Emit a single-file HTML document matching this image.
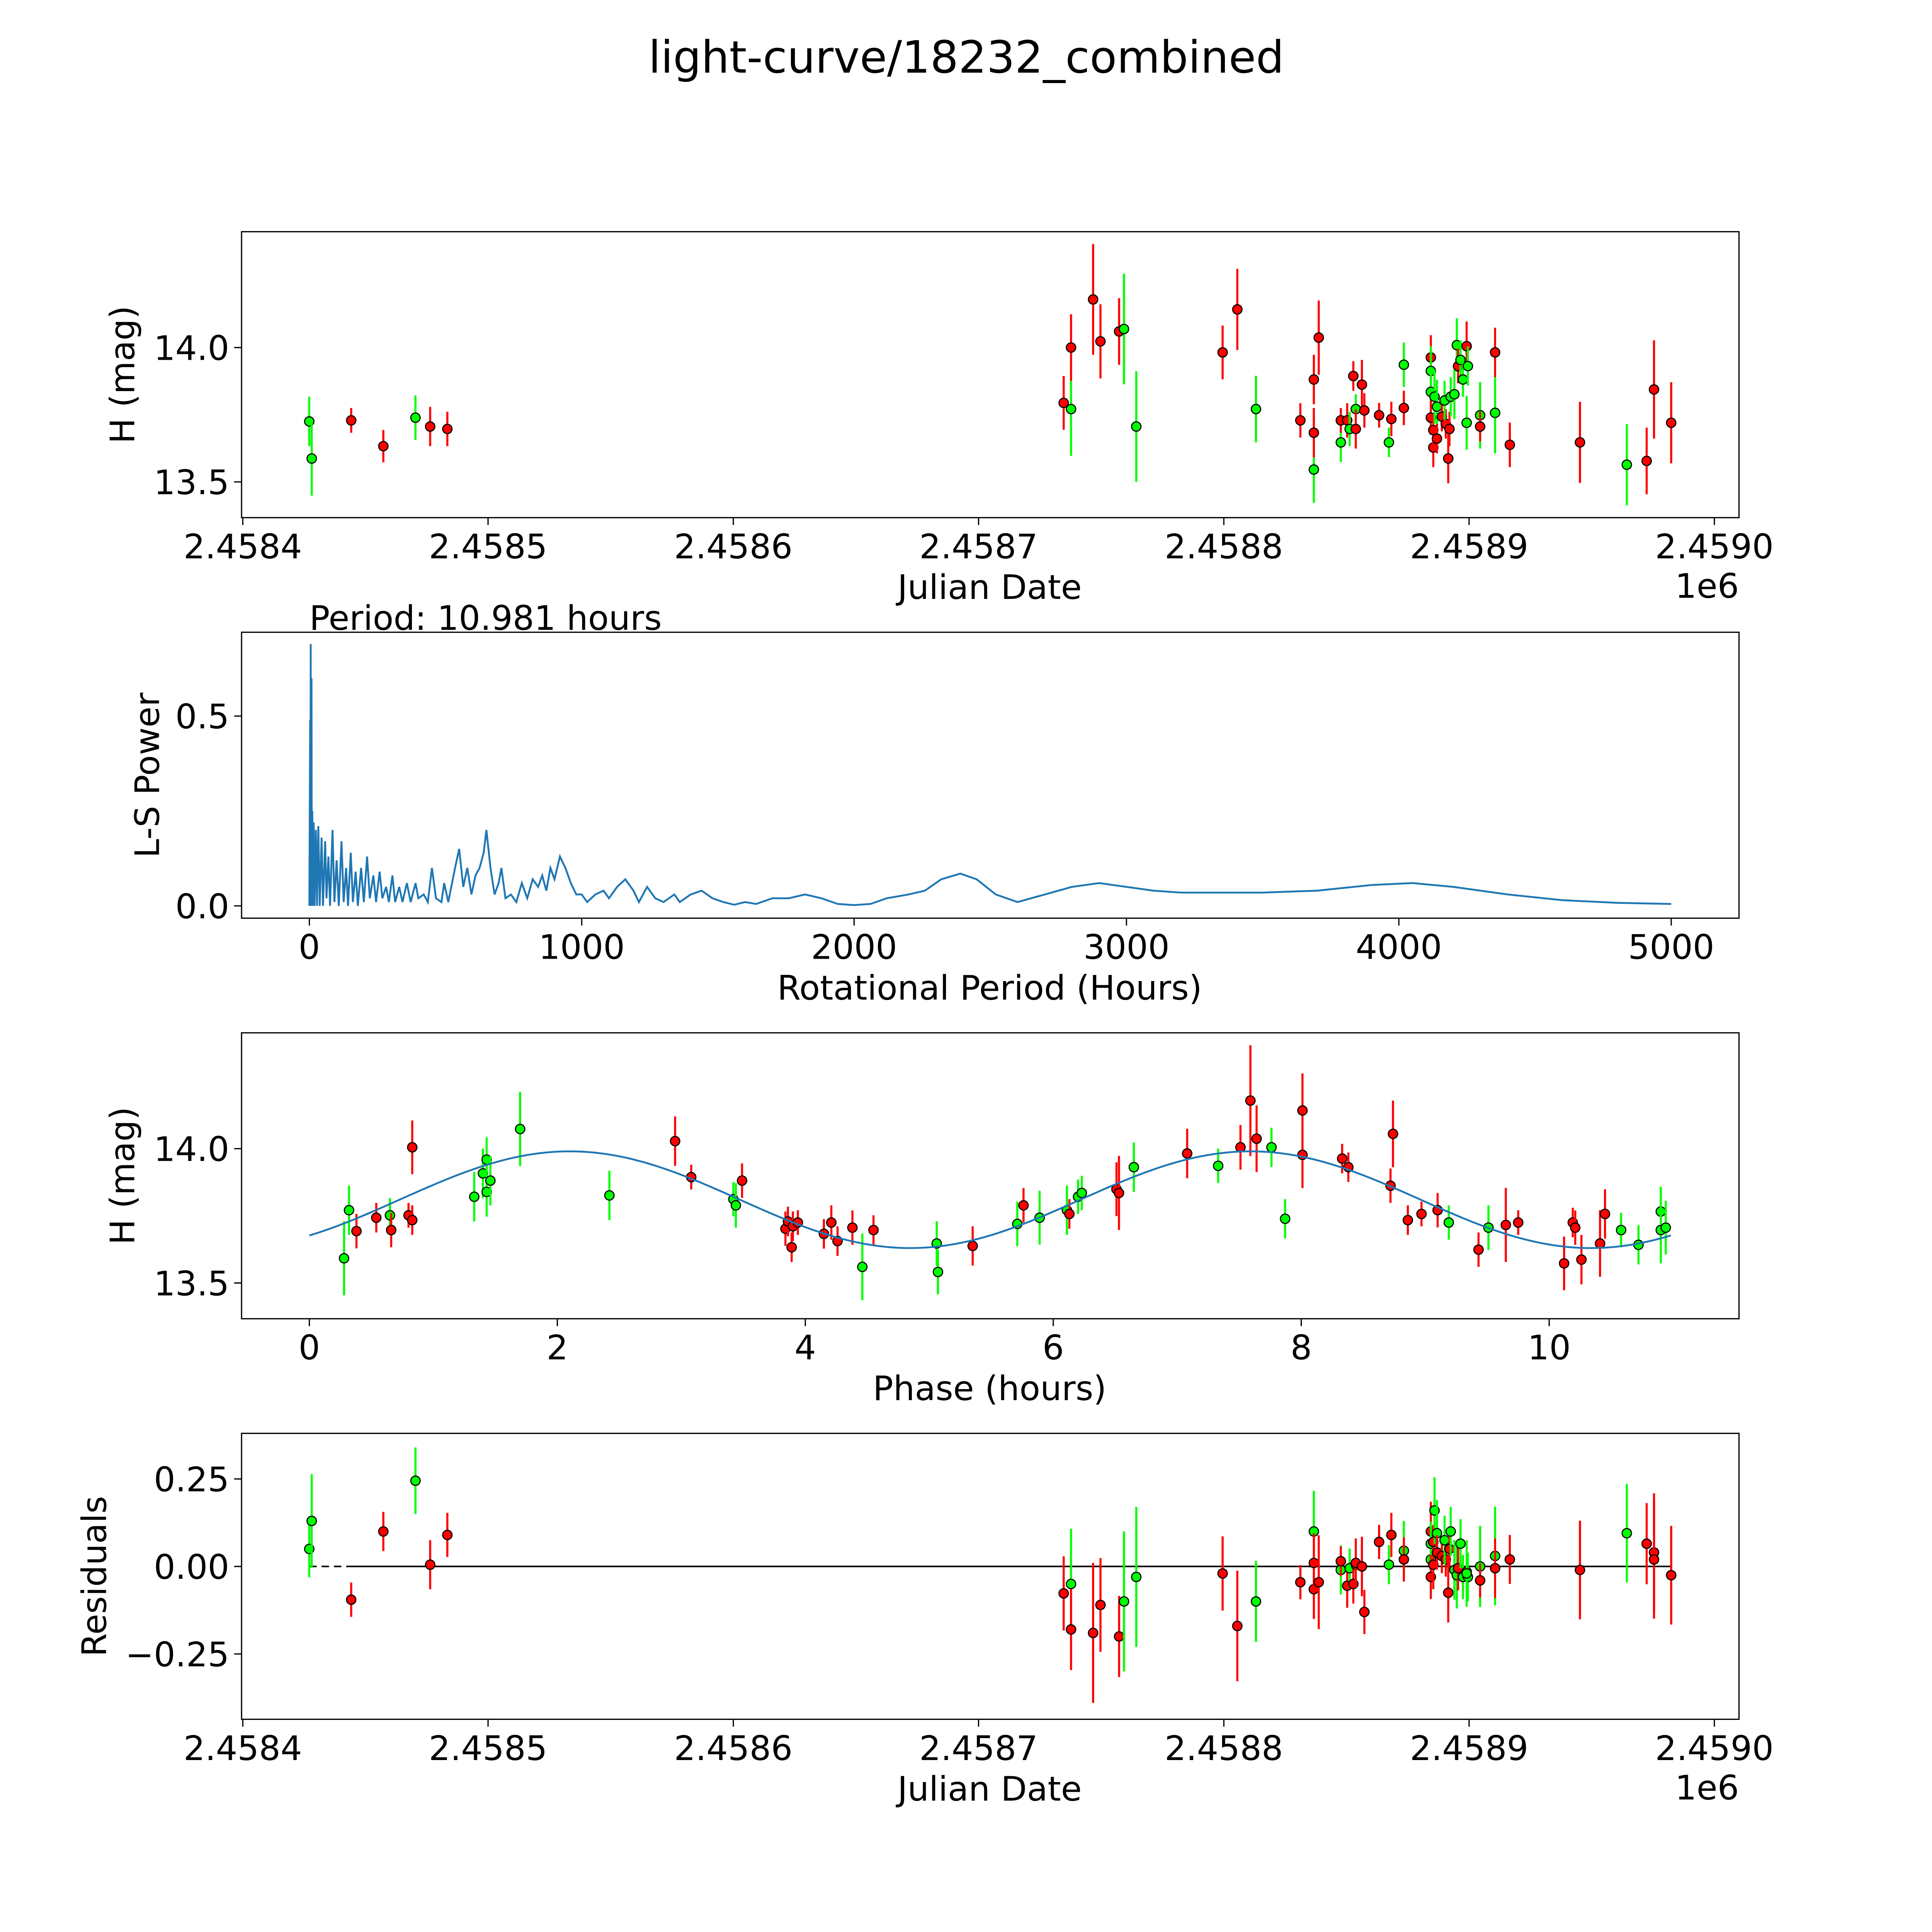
<!DOCTYPE html>
<html><head><meta charset="utf-8"><style>
html,body{margin:0;padding:0;background:#fff;overflow:hidden;width:5400px;height:5400px;}
svg{display:block;font-family:"DejaVu Sans","Liberation Sans",sans-serif;}
</style></head><body>
<svg id="fig" xmlns="http://www.w3.org/2000/svg" width="5400" height="5400" viewBox="0 0 1693 1693" preserveAspectRatio="xMinYMin meet">
<rect x="0" y="0" width="1693" height="1693" fill="#fff"/>
<text x="784" y="59" font-size="36" text-anchor="middle">light-curve/18232_combined</text>
<g id="p1"></g>
<g id="p2"></g>
<g id="p3"></g>
<g id="p4"></g>
</svg>
<script>
// Panel 1 data: JD offset from 2458400, magnitude, error, filter colour
const t1=[27.1,28.1,44.2,57.3,70.4,76.4,83.4,334.7,337.7,337.7,346.7,349.7,357.3,359.3,364.3,399.5,405.5,413.1,431.2,436.7,436.7,436.7,438.7,447.7,447.7,450.3,451.3,452.8,453.8,453.8,456.3,457.3,463.3,467.3,468.3,473.4,473.4,484.4,484.4,484.4,484.4,485.4,485.4,485.9,486.9,486.9,488.9,490.5,490,491.5,492,492.5,494,495,495.5,496.5,497.5,499,499.5,499,504.5,504.5,510.6,510.6,516.6,545.2,564.3,572.4,575.4,582.4];
const m1=[13.725,13.587,13.729,13.633,13.739,13.706,13.697,13.794,13.771,14.0,14.179,14.023,14.06,14.069,13.706,13.982,14.142,13.771,13.729,13.546,13.683,13.881,14.037,13.647,13.729,13.729,13.697,13.894,13.771,13.697,13.862,13.766,13.748,13.647,13.734,13.936,13.775,13.963,13.913,13.835,13.739,13.628,13.693,13.817,13.78,13.661,13.743,13.716,13.803,13.587,13.697,13.817,13.826,14.009,13.931,13.954,13.881,14.005,13.931,13.72,13.748,13.706,13.757,13.982,13.638,13.647,13.564,13.578,13.844,13.72];
const e1=[0.092,0.138,0.046,0.06,0.083,0.073,0.064,0.1,0.174,0.124,0.206,0.138,0.124,0.206,0.206,0.1,0.151,0.124,0.064,0.124,0.092,0.092,0.138,0.073,0.046,0.064,0.064,0.055,0.055,0.073,0.092,0.064,0.046,0.055,0.064,0.083,0.064,0.083,0.092,0.064,0.064,0.073,0.055,0.1,0.1,0.055,0.055,0.055,0.073,0.092,0.064,0.073,0.092,0.1,0.064,0.073,0.064,0.092,0.073,0.1,0.124,0.055,0.151,0.092,0.083,0.151,0.151,0.124,0.183,0.151];
const c1="ggrrgrrr"+"g"+"rrrr"+"gg"+"rr"+"g"+"r"+"g"+"rrr"+"g"+"r"+"r"+"g"+"r"+"g"+"rrrr"+"g"+"r"+"g"+"rr"+"gg"+"rrr"+"gg"+"rrr"+"g"+"rr"+"ggg"+"r"+"gg"+"r"+"ggg"+"r"+"g"+"rrr"+"g"+"rrr";
// Panel 2: Lomb-Scargle periodogram
const per2=[0,3,4,5,6,8,9,11,13,16,19,24,28,33,38,45,50,58,63,70,76,85,92,100,108,118,126,135,142,152,160,170,178,190,200,212,222,235,245,258,268,282,292,305,315,330,342,358,372,390,400,420,435,450,465,485,495,510,535,550,565,580,595,610,625,640,650,665,680,695,705,720,740,760,780,800,820,840,855,870,885,900,920,940,960,980,1000,1020,1050,1080,1100,1130,1160,1190,1210,1240,1270,1300,1340,1360,1400,1440,1480,1520,1560,1600,1640,1700,1760,1820,1880,1940,2000,2060,2120,2200,2260,2320,2390,2450,2520,2600,2700,2800,2900,3000,3100,3200,3300,3500,3700,3900,4050,4200,4400,4600,4800,5000];
const pow2=[0,0.49,0,0.69,0,0.6,0,0.25,0,0.22,0,0.2,0,0.21,0,0.18,0,0.17,0.02,0.13,0,0.2,0.01,0.12,0,0.17,0.01,0.1,0,0.14,0.01,0.09,0,0.1,0.01,0.13,0.02,0.08,0.01,0.09,0.02,0.05,0.01,0.08,0.01,0.05,0.01,0.06,0.01,0.06,0.02,0.03,0.01,0.1,0.02,0.01,0.06,0.01,0.1,0.15,0.05,0.1,0.03,0.08,0.1,0.14,0.2,0.1,0.03,0.06,0.1,0.02,0.03,0.01,0.06,0.02,0.07,0.05,0.08,0.04,0.1,0.07,0.13,0.1,0.06,0.03,0.03,0.01,0.03,0.04,0.02,0.05,0.07,0.04,0.01,0.05,0.02,0.01,0.03,0.01,0.03,0.04,0.02,0.01,0.003,0.01,0.005,0.02,0.02,0.03,0.02,0.005,0.002,0.005,0.02,0.03,0.04,0.07,0.085,0.07,0.03,0.01,0.03,0.05,0.06,0.05,0.04,0.035,0.035,0.035,0.04,0.055,0.06,0.05,0.03,0.015,0.008,0.005];
const periodHours=10.981;
// Panel 3: phased data
const ph3=[0.28,0.32,0.38,0.54,0.65,0.66,0.8,0.83,0.83,1.33,1.4,1.43,1.43,1.46,1.7,2.42,2.95,3.08,3.42,3.44,3.49,3.84,3.86,3.89,3.9,3.94,4.15,4.21,4.26,4.38,4.46,4.55,5.06,5.07,5.35,5.71,5.76,5.89,6.11,6.13,6.2,6.23,6.51,6.53,6.65,7.08,7.33,7.51,7.59,7.64,7.76,7.87,8.01,8.01,8.33,8.38,8.72,8.74,8.86,8.97,9.1,9.19,9.43,9.51,9.65,9.75,10.12,10.19,10.21,10.26,10.41,10.45,10.58,10.72,10.9,10.9,10.94];
const m3=[13.592,13.771,13.693,13.743,13.752,13.697,13.752,14.005,13.734,13.821,13.908,13.959,13.839,13.881,14.073,13.826,14.028,13.894,13.812,13.789,13.881,13.702,13.729,13.633,13.711,13.725,13.683,13.725,13.656,13.706,13.56,13.697,13.647,13.541,13.638,13.72,13.789,13.743,13.771,13.757,13.821,13.835,13.849,13.835,13.931,13.982,13.936,14.005,14.179,14.037,14.005,13.739,13.977,14.142,13.963,13.931,13.862,14.055,13.734,13.757,13.771,13.725,13.624,13.706,13.716,13.725,13.573,13.725,13.706,13.587,13.647,13.757,13.697,13.642,13.766,13.697,13.706];
const e3=[0.138,0.092,0.064,0.055,0.064,0.064,0.046,0.1,0.055,0.092,0.092,0.083,0.092,0.092,0.138,0.092,0.092,0.046,0.064,0.083,0.064,0.064,0.055,0.055,0.055,0.046,0.055,0.064,0.055,0.064,0.124,0.055,0.083,0.083,0.073,0.083,0.064,0.1,0.092,0.055,0.064,0.064,0.1,0.138,0.092,0.092,0.064,0.083,0.206,0.124,0.073,0.073,0.124,0.138,0.055,0.055,0.064,0.124,0.055,0.046,0.064,0.064,0.064,0.083,0.138,0.046,0.1,0.055,0.064,0.092,0.124,0.092,0.064,0.073,0.092,0.124,0.1];
const c3="ggrrgrrrr"+"ggggggg"+"rr"+"gg"+"r"+"rrrrr"+"rrrr"+"g"+"r"+"gg"+"r"+"g"+"r"+"gg"+"r"+"gg"+"rr"+"g"+"r"+"g"+"rrr"+"gg"+"rrrrrrrrr"+"g"+"r"+"g"+"rrrrrrrr"+"ggggg";
// fit model coefficients: mean, amplitude, phase of peak (hours)
const fitMean=13.81, fitAmp=0.18, fitPeak=2.1;
// Panel 4 residuals
const t4=[27.1,28.1,44.2,57.3,70.4,76.4,83.4,334.7,337.7,337.7,346.7,349.7,357.3,359.3,364.3,399.5,405.5,413.1,431.2,436.7,436.7,436.7,438.7,447.7,447.7,450.3,451.3,452.8,453.8,453.8,456.3,457.3,463.3,467.3,468.3,473.4,473.4,484.4,484.4,484.4,484.4,485.4,485.4,485.9,486.9,486.9,488.9,490.5,490,491.5,492,492.5,494,495,495.5,496.5,497.5,499,499.5,499,504.5,504.5,510.6,510.6,516.6,545.2,564.3,572.4,575.4,575.4,582.4];
const r4=[0.05,0.13,-0.095,0.1,0.245,0.005,0.09,-0.077,-0.05,-0.18,-0.19,-0.11,-0.2,-0.1,-0.03,-0.02,-0.17,-0.1,-0.045,0.1,-0.065,0.01,-0.045,-0.01,0.015,-0.055,-0.005,-0.05,0.005,0.01,0,-0.13,0.07,0.005,0.09,0.045,0.02,0.1,0.02,0.065,-0.03,0.005,0.07,0.16,0.095,0.04,0.03,0.02,0.075,-0.075,0.05,0.1,-0.01,-0.025,-0.005,0.065,-0.03,-0.015,-0.03,-0.02,0,-0.04,0.03,-0.005,0.02,-0.01,0.095,0.065,0.04,0.02,-0.025];
const e4=[0.081,0.134,0.049,0.056,0.095,0.07,0.063,0.106,0.158,0.116,0.2,0.134,0.116,0.2,0.2,0.106,0.158,0.116,0.049,0.116,0.085,0.085,0.134,0.07,0.042,0.063,0.056,0.056,0.049,0.07,0.085,0.063,0.049,0.056,0.063,0.085,0.063,0.085,0.095,0.063,0.063,0.07,0.049,0.095,0.095,0.049,0.049,0.049,0.07,0.085,0.063,0.07,0.085,0.095,0.063,0.07,0.063,0.085,0.07,0.095,0.116,0.049,0.141,0.085,0.07,0.141,0.141,0.116,0.169,0.169,0.141];
const c4=c1+"r";

const NS="http://www.w3.org/2000/svg";
function mk(parent,tag,attrs,txt){const e=document.createElementNS(NS,tag);for(const k in attrs)e.setAttribute(k,attrs[k]);if(txt!==undefined)e.textContent=txt;parent.appendChild(e);return e;}
const COL={g:"#00ff00",r:"#ff0000"};
const colOf=c=>COL[c]||"#ff0000";
const FS=27.5;

// axis functions
const jdX=t=>197+t*1.99;
const p1Y=m=>282+(14-m)*218;
const p2X=p=>251+p*0.221;
const p2Y=v=>735-v*308;
const p3X=h=>251+h*100.6;
const p3Y=m=>932+(14-m)*218;
const p4Y=r=>1271-r*284;

function frame(g,top,name){
  const r=mk(g,'rect',{x:196,y:top,width:1215,height:232,fill:'none',stroke:'#000','stroke-width':1});
  
  
}
function xtick(g,x,bottom,label){
  const l=mk(g,'line',{x1:x,y1:bottom,x2:x,y2:bottom+6,stroke:'#000','stroke-width':1});
  
  
  const t=mk(g,'text',{x:x,y:bottom+33,'font-size':FS,'text-anchor':'middle'},label);
  
  
}
function ytick(g,y,label){
  const l=mk(g,'line',{x1:190,y1:y,x2:196,y2:y,stroke:'#000','stroke-width':1});
  
  
  const t=mk(g,'text',{x:186,y:y+10,'font-size':FS,'text-anchor':'end'},label);
  
  
}
function label(g,x,y,txt,rot,name,anchor){
  const a={x:x,y:y,'font-size':FS,'text-anchor':anchor||'middle'};
  if(rot)a.transform='rotate(-90 '+x+' '+y+')';
  const t=mk(g,'text',a,txt);
  
  
}
function point(g,x,y,ey1,ey2,col){
  const l=mk(g,'line',{x1:x,y1:ey1,x2:x,y2:ey2,stroke:col,'stroke-width':1.7});
  
  
  const c=mk(g,'circle',{cx:x,cy:y,r:3.8,fill:col,stroke:'#000','stroke-width':0.9});
  
  
}
const jdTicks=["2.4584","2.4585","2.4586","2.4587","2.4588","2.4589","2.4590"];

// Panel 1
const g1=document.getElementById('p1');
for(let i=0;i<t1.length;i++){const e=e1[i]||0.08;const x=jdX(t1[i]);point(g1,x,p1Y(m1[i]),p1Y(m1[i]+e),p1Y(m1[i]-e),colOf(c1[i]));}
frame(g1,188,'lightcurve-frame');
jdTicks.forEach((s,i)=>xtick(g1,jdX(i*100),420,s));
[["14.0",14.0],["13.5",13.5]].forEach(a=>ytick(g1,p1Y(a[1]),a[0]));
label(g1,803,486,"Julian Date",false,'x-axis-title');
label(g1,1411,485,"1e6",false,'x-offset-label','end');
label(g1,109,304,"H (mag)",true,'y-axis-title');

// Panel 2
const g2=document.getElementById('p2');
const pts=per2.map((p,i)=>p2X(p).toFixed(2)+','+p2Y(pow2[i]).toFixed(2)).join(' ');
const pl=mk(g2,'polyline',{points:pts,fill:'none',stroke:'#1f77b4','stroke-width':1.5});


frame(g2,513,'periodogram-frame');
[0,1000,2000,3000,4000,5000].forEach(v=>xtick(g2,p2X(v),745,String(v)));
[["0.0",0],["0.5",0.5]].forEach(a=>ytick(g2,p2Y(a[1]),a[0]));
label(g2,803,811,"Rotational Period (Hours)",false,'x-axis-title');
label(g2,129,629,"L-S Power",true,'y-axis-title');
label(g2,251,511,"Period: "+periodHours.toFixed(3)+" hours",false,'period-annotation','start');

// Panel 3
const g3=document.getElementById('p3');
for(let i=0;i<ph3.length;i++){const e=e3[i]||0.08;const x=p3X(ph3[i]);point(g3,x,p3Y(m3[i]),p3Y(m3[i]+e),p3Y(m3[i]-e),colOf(c3[i]));}
let fp=[];
for(let k=0;k<=220;k++){const h=periodHours*k/220;const m=fitMean+fitAmp*Math.cos(2*Math.PI*2*(h-fitPeak)/periodHours);fp.push(p3X(h).toFixed(2)+','+p3Y(m).toFixed(2));}
const fl=mk(g3,'polyline',{points:fp.join(' '),fill:'none',stroke:'#1f77b4','stroke-width':1.5});


frame(g3,838,'phased-frame');
[0,2,4,6,8,10].forEach(v=>xtick(g3,p3X(v),1070,String(v)));
[["14.0",14.0],["13.5",13.5]].forEach(a=>ytick(g3,p3Y(a[1]),a[0]));
label(g3,803,1136,"Phase (hours)",false,'x-axis-title');
label(g3,109,954,"H (mag)",true,'y-axis-title');

// Panel 4
const g4=document.getElementById('p4');
const zd=mk(g4,'line',{x1:jdX(t4[0]),y1:p4Y(0),x2:jdX(44),y2:p4Y(0),stroke:'#000','stroke-width':1.3,'stroke-dasharray':'6,4'});


const zl=mk(g4,'line',{x1:jdX(44),y1:p4Y(0),x2:jdX(t4[t4.length-1]),y2:p4Y(0),stroke:'#000','stroke-width':1.3});


for(let i=0;i<t4.length;i++){const e=e4[i]||0.08;const x=jdX(t4[i]);point(g4,x,p4Y(r4[i]),p4Y(r4[i]+e),p4Y(r4[i]-e),colOf(c4[i]));}
frame(g4,1163,'residuals-frame');
jdTicks.forEach((s,i)=>xtick(g4,jdX(i*100),1395,s));
[["0.25",0.25],["0.00",0],["\u22120.25",-0.25]].forEach(a=>ytick(g4,p4Y(a[1]),a[0]));
label(g4,803,1461,"Julian Date",false,'x-axis-title');
label(g4,1411,1460,"1e6",false,'x-offset-label','end');
label(g4,86,1279,"Residuals",true,'y-axis-title');
</script>
</body></html>
